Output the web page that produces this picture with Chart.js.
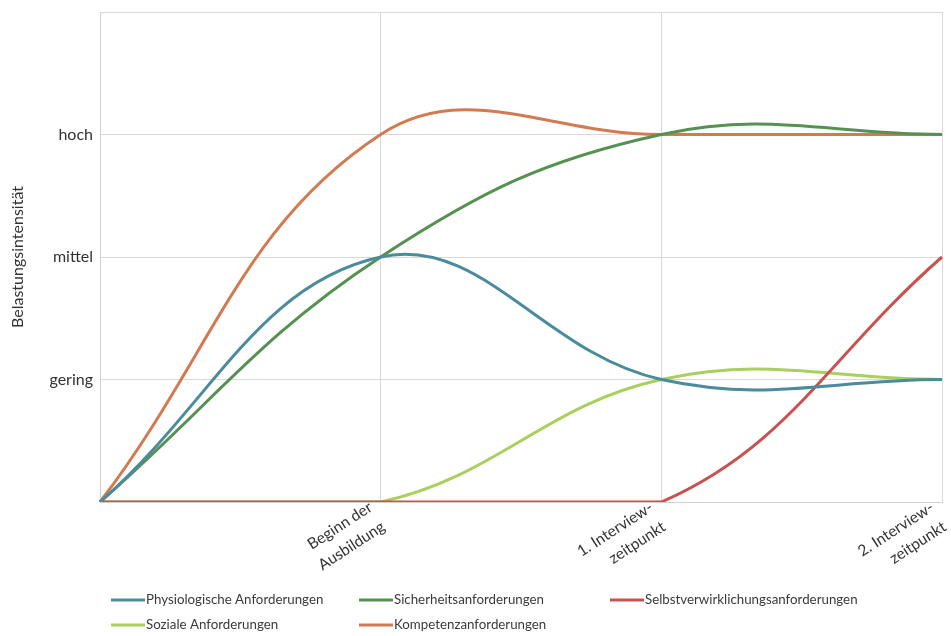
<!DOCTYPE html>
<html>
<head>
<meta charset="utf-8">
<script src="https://cdn.jsdelivr.net/npm/chart.js@4"></script>
<style>
  body { margin: 0; background: #fff; }
  #wrap { width: 951px; height: 636px; }
</style>
</head>
<body>
<div id="wrap"><canvas id="chart"></canvas></div>
<script>
// categories on the x axis
const categories = ['', ['Beginn der', 'Ausbildung'], ['1. Interview-', 'zeitpunkt'], ['2. Interview-', 'zeitpunkt']];
// y tick labels (value -> label)
const levelLabels = { 1: 'gering', 2: 'mittel', 3: 'hoch' };

// series values (0 = none, 1 = gering, 2 = mittel, 3 = hoch)
const physiologisch = [0, 2, 1, 1];
const sicherheit = [0, 2, 3, 3];
const selbstverwirklichung = [0, 0, 0, 2];
const soziale = [0, 0, 1, 1];
const kompetenz = [0, 3, 3, 3];

const seriesNames = [
    'Physiologische Anforderungen',
    'Sicherheitsanforderungen',
    'Selbstverwirklichungsanforderungen',
    'Soziale Anforderungen',
    'Kompetenzanforderungen'
];
const seriesData = [physiologisch, sicherheit, selbstverwirklichung, soziale, kompetenz];
const seriesColors = ['#4a8b9c', '#559251', '#c8524f', '#a9cf5c', '#d27b53'];

const FONT = 'Lato, "Open Sans", sans-serif';

// legend drawn as a 3-column grid like the original
const gridLegend = {
    id: 'gridLegend',
    afterDraw(chart) {
        const ctx = chart.ctx;
        const cols = [111, 359, 610];
        const rows = [600, 625];
        ctx.save();
        ctx.font = '13.3px ' + FONT;
        ctx.textBaseline = 'middle';
        ctx.fillStyle = '#3a3a3a';
        chart.data.datasets.forEach((ds, i) => {
            const x = cols[i % 3];
            const y = rows[Math.floor(i / 3)];
            ctx.strokeStyle = ds.borderColor;
            ctx.lineWidth = 3;
            ctx.beginPath();
            ctx.moveTo(x, y);
            ctx.lineTo(x + 34, y);
            ctx.stroke();
            ctx.fillText(ds.label, x + 35, y);
        });
        ctx.restore();
    }
};

const datasets = seriesNames.map((name, i) => ({
    label: name,
    data: seriesData[i],
    borderColor: seriesColors[i],
    backgroundColor: seriesColors[i],
    borderWidth: 3,
    pointRadius: 0,
    tension: 0.4,
    fill: false
}));

new Chart(document.getElementById('chart'), {
    type: 'line',
    data: { labels: categories, datasets: datasets },
    plugins: [gridLegend],
    options: {
        responsive: true,
        maintainAspectRatio: false,
        animation: false,
        layout: { padding: { top: 12, right: 9, left: 0, bottom: 0 } },
        plugins: {
            legend: { display: false },
            tooltip: { enabled: false }
        },
        scales: {
            x: {
                offset: false,
                grid: { color: '#dcd8d8', drawTicks: false },
                border: { color: '#d4d0d0' },
                ticks: {
                    color: '#333',
                    font: { family: FONT, size: 15.5, lineHeight: 1.5 },
                    minRotation: 33,
                    maxRotation: 33,
                    padding: -6,
                    labelOffset: -10,
                    autoSkip: false
                },
                afterFit(scale) {
                    scale.height = 134;
                    scale.paddingLeft = 0;
                    scale.paddingRight = 0;
                }
            },
            y: {
                min: 0,
                max: 4,
                grid: { color: '#dcd8d8', drawTicks: false },
                border: { color: '#d4d0d0' },
                ticks: {
                    stepSize: 1,
                    color: '#333',
                    font: { family: FONT, size: 16 },
                    padding: 7,
                    callback: v => levelLabels[v] || ''
                },
                title: {
                    display: true,
                    text: 'Belastungsintensität',
                    color: '#333',
                    font: { family: FONT, size: 16 },
                    padding: { top: 8, bottom: 0 }
                },
                afterFit(scale) {
                    scale.width = 100;
                    scale.paddingTop = 0;
                    scale.paddingBottom = 0;
                }
            }
        }
    }
});
</script>
</body>
</html>
